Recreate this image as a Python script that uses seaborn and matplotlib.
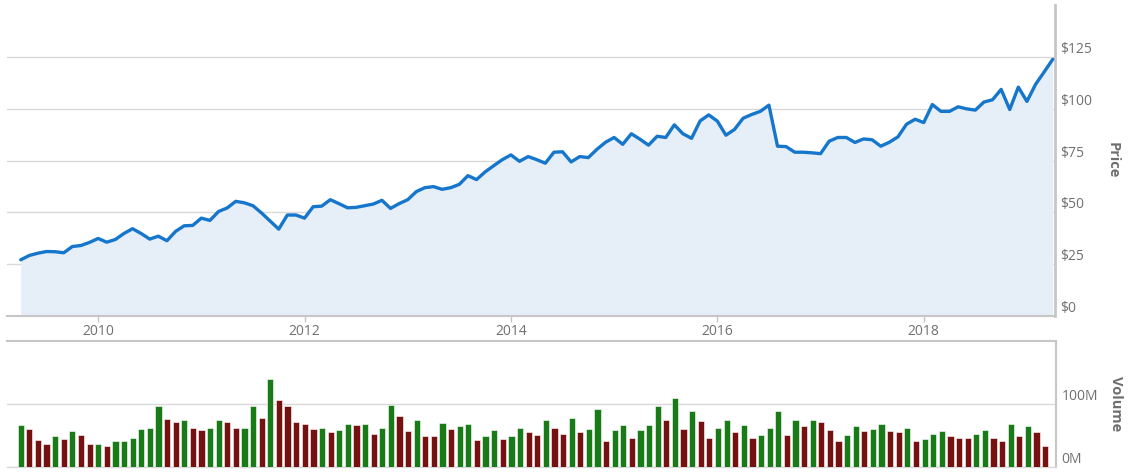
import numpy as np
import pandas as pd
import matplotlib
matplotlib.use("Agg")
import matplotlib.pyplot as plt
import seaborn as sns

# ---- data (monthly, April 2009 .. April 2019) ----
start_year = 2009.25
price = [27.1, 29.2, 30.3, 31.1, 31.0, 30.5, 33.5, 34.0, 35.5, 37.4,
         35.6, 36.9, 39.8, 42.1, 39.8, 37.1, 38.5, 36.3, 40.8, 43.5,
         43.7, 47.2, 46.1, 50.4, 52.1, 55.3, 54.6, 53.2, 49.7, 45.8,
         41.9, 48.7, 48.7, 47.2, 52.7, 53.0, 56.1, 54.2, 52.2, 52.4,
         53.2, 54.0, 55.8, 51.9, 54.2, 56.1, 60.0, 61.9, 62.4, 61.1,
         61.9, 63.5, 67.7, 65.8, 69.5, 72.5, 75.4, 77.7, 74.6, 76.9,
         75.4, 73.7, 79.0, 79.2, 74.3, 76.9, 76.4, 80.4, 83.8, 86.1,
         82.8, 87.9, 85.3, 82.4, 86.7, 86.1, 92.2, 87.9, 85.7, 94.1,
         97.0, 94.0, 87.2, 90.0, 95.4, 97.2, 98.7, 101.7, 81.9, 81.7,
         79.0, 79.0, 78.7, 78.3, 84.3, 86.1, 86.1, 83.7, 85.4, 85.0,
         81.9, 83.8, 86.4, 92.5, 94.9, 93.3, 102.0, 98.7, 98.7, 100.9,
         99.9, 99.3, 103.2, 104.3, 109.3, 99.6, 110.4, 103.5, 111.7, 117.7,
         123.8]

volume_m = [66.8, 61.0, 43.1, 37.3, 48.9, 45.2, 56.8, 51.0, 37.3, 37.3,
            33.1, 41.0, 41.0, 46.8, 60.5, 62.6, 96.3, 76.8, 71.0, 74.7,
            62.6, 58.9, 62.6, 74.7, 71.0, 62.6, 62.6, 96.3, 78.4, 139.4,
            106.3, 96.3, 71.0, 68.9, 61.0, 62.6, 55.2, 58.9, 68.9, 66.8,
            68.9, 53.1, 62.6, 98.9, 80.5, 57.3, 74.7, 48.9, 48.9, 70.5,
            61.0, 64.7, 68.9, 43.1, 48.9, 58.9, 45.2, 48.9, 62.6, 55.2,
            51.0, 74.7, 62.6, 53.1, 78.4, 55.2, 61.0, 92.6, 41.0, 58.9,
            66.8, 46.8, 58.9, 66.8, 96.3, 74.7, 109.9, 61.0, 88.4, 72.6,
            46.8, 62.6, 74.7, 55.2, 66.8, 46.8, 51.0, 62.6, 88.4, 51.0,
            74.7, 64.7, 74.7, 71.0, 58.9, 41.0, 51.0, 64.7, 56.8, 61.0,
            68.9, 56.8, 55.2, 62.6, 41.0, 45.2, 53.1, 56.8, 48.9, 46.8,
            46.8, 53.1, 58.9, 46.8, 41.0, 68.9, 48.9, 64.7, 55.2, 33.1]

direction = ["up", "down", "down", "down", "up", "down", "up", "down", "down", "up",
             "down", "up", "up", "up", "up", "up", "up", "down", "down", "up",
             "down", "down", "up", "up", "down", "down", "up", "up", "down", "up",
             "down", "down", "down", "down", "down", "up", "down", "up", "up", "down",
             "up", "down", "up", "up", "down", "down", "up", "down", "down", "up",
             "down", "up", "up", "down", "up", "up", "down", "up", "up", "down",
             "down", "up", "down", "down", "up", "down", "up", "up", "down", "up",
             "up", "down", "up", "up", "up", "down", "up", "down", "up", "down",
             "down", "up", "up", "down", "up", "down", "up", "up", "up", "down",
             "up", "down", "up", "down", "down", "down", "up", "up", "down", "up",
             "up", "down", "down", "up", "down", "up", "up", "up", "down", "down",
             "down", "up", "up", "down", "down", "up", "down", "up", "down", "down"]

year_ticks = [2010, 2012, 2014, 2016, 2018]
price_ticks = [0, 25, 50, 75, 100, 125]
volume_ticks = [0, 100]

t_price = start_year + np.arange(len(price)) / 12.0
t_vol = start_year + np.arange(len(volume_m)) / 12.0
df_price = pd.DataFrame({"t": t_price, "price": price})
df_vol = pd.DataFrame({"t": t_vol, "volume": np.array(volume_m) * 1e6, "dir": direction})

# ---- style ----
sns.set_theme(style="white")
plt.rcParams["font.family"] = ["Open Sans", "DejaVu Sans"]

W, H = 1138, 472
fig = plt.figure(figsize=(W / 100, H / 100), dpi=100)
ax1 = fig.add_axes([7 / W, 1 - 316 / H, (1055 - 7) / W, (316 - 5) / H])
ax2 = fig.add_axes([7 / W, 1 - 467 / H, (1056 - 7) / W, (467 - 341) / H])

line_c = "#1576cc"
fill_c = "#e6eef8"
grid_c = "#d9d9d9"
axis_c = "#c6c6c6"
text_c = "#707070"

xlim = (2009.117, 2019.272)

# price panel
ax1.fill_between(df_price["t"], df_price["price"], 0, color=fill_c, lw=0, zorder=1)
sns.lineplot(data=df_price, x="t", y="price", ax=ax1, color=line_c, lw=2.4, zorder=3)
ax1.set_xlim(*xlim)
ax1.set_ylim(0, 150)
ax1.set_yticks(price_ticks)
ax1.set_yticklabels([f"${v}" for v in price_ticks])
ax1.yaxis.tick_right()
ax1.set_xticks(year_ticks)
ax1.set_xticklabels([str(y) for y in year_ticks])
ax1.grid(axis="y", color=grid_c, lw=1)
ax1.grid(axis="x", visible=False)
ax1.set_axisbelow(True)
ax1.set_xlabel("")
ax1.set_ylabel("")
for s in ["top", "left"]:
    ax1.spines[s].set_visible(False)
ax1.spines["right"].set_color(axis_c)
ax1.spines["right"].set_linewidth(2)
ax1.spines["bottom"].set_color(axis_c)
ax1.spines["bottom"].set_linewidth(1.5)
ax1.tick_params(axis="y", length=0, pad=4, labelsize=10, labelcolor=text_c)
ax1.tick_params(axis="x", bottom=True, length=4, width=1, color=axis_c, pad=2,
                labelsize=10, labelcolor=text_c)
for lab in ax1.get_yticklabels():
    lab.set_va("bottom")

# volume panel
sns.barplot(data=df_vol, x="t", y="volume", hue="dir",
            palette={"up": "#078c07", "down": "#860000"}, native_scale=True,
            dodge=False, width=0.72, legend=False, ax=ax2,
            edgecolor="#ffffff", linewidth=0.4, zorder=3)
ax2.set_xlim(*xlim)
ax2.set_ylim(0, 200e6)
ax2.set_yticks([v * 1e6 for v in volume_ticks])
ax2.set_yticklabels([f"{v}M" for v in volume_ticks])
ax2.yaxis.tick_right()
ax2.set_xticks([])
ax2.grid(axis="y", color=grid_c, lw=1)
ax2.grid(axis="x", visible=False)
ax2.set_axisbelow(True)
ax2.set_xlabel("")
ax2.set_ylabel("")
ax2.spines["left"].set_visible(False)
for s in ["top", "right"]:
    ax2.spines[s].set_color(axis_c)
    ax2.spines[s].set_linewidth(1.5)
ax2.spines["bottom"].set_color(grid_c)
ax2.spines["bottom"].set_linewidth(1)
ax2.tick_params(axis="y", length=0, pad=4, labelsize=10, labelcolor=text_c)
for lab in ax2.get_yticklabels():
    lab.set_va("bottom")

fig.text(1113 / W, 1 - 160 / H, "Price", rotation=270, ha="center", va="center",
         fontsize=10.5, fontweight="bold", color="#6e6e6e")
fig.text(1116 / W, 1 - 404 / H, "Volume", rotation=270, ha="center", va="center",
         fontsize=10.5, fontweight="bold", color="#6e6e6e")

fig.savefig("out.png", dpi=100)
